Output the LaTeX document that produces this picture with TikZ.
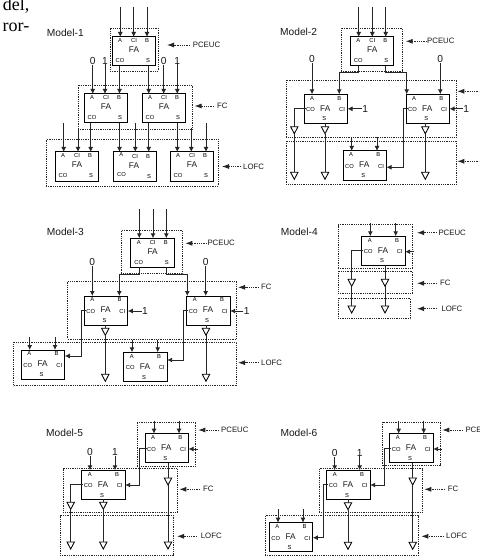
\documentclass[tikz,border=0pt]{standalone}
\usepackage{fontspec}
\setmainfont{Liberation Sans}
\newfontfamily\serifpart{Liberation Serif}
\usetikzlibrary{arrows.meta,shapes.geometric,fit,calc}
\newcounter{fe}
\tikzset{
  wire/.style={line width=.95pt,draw=black!85},
  wirein/.style={wire,-{Latex[length=5pt,width=5pt]}},
  fabox/.style={draw=black,line width=1pt,anchor=north west,minimum width=43.5pt,minimum height=29pt,inner sep=0pt,outer sep=0pt},
  grp/.style={draw=black!85,line width=.85pt,dash pattern=on .9pt off .9pt,inner sep=0pt,outer sep=0pt},
  lab/.style={font=\fontsize{5.8}{6}\selectfont,inner sep=0pt,text=black},
  falab/.style={font=\fontsize{8.3}{9}\selectfont,inner sep=0pt,text=black!90},
  title/.style={font=\fontsize{10.2}{11}\selectfont,inner sep=0pt,anchor=west,text=black!90},
  tag/.style={font=\fontsize{7.8}{9}\selectfont,inner sep=0pt,anchor=west,text=black!90},
  digit/.style={font=\fontsize{10.2}{11}\selectfont,inner sep=.2pt,text=black!90},
  tagline/.style={line width=.85pt,draw=black!85,dash pattern=on .9pt off .9pt,-{Latex[length=7pt,width=5pt]}},
  buf/.style={draw=black,fill=white,line width=.85pt,isosceles triangle,isosceles triangle stretches,minimum width=7.4pt,minimum height=7pt,shape border rotate=-90,inner sep=0pt,outer sep=0pt,anchor=lower side},
  para/.style={font=\serifpart\fontsize{18}{20}\selectfont,inner sep=0pt,anchor=base east,text=black}
}
\newcommand\FAT[3]{%
  \node[fabox] (#1) at (#2,#3) {};
  \node[lab] (#1-la) at ([shift={(8,4)}]#1.north west) {A};
  \node[lab] (#1-lc) at ([shift={(22,4)}]#1.north west) {CI};
  \node[lab] (#1-lb) at ([shift={(35,4)}]#1.north west) {B};
  \node[falab] (#1-lf) at ([shift={(22,13)}]#1.north west) {FA};
  \node[lab] (#1-lo) at ([shift={(8,24)}]#1.north west) {CO};
  \node[lab] (#1-ls) at ([shift={(36,24)}]#1.north west) {S};
}
\newcommand\FAS[3]{%
  \node[fabox] (#1) at (#2,#3) {};
  \node[lab] (#1-la) at ([shift={(8,4)}]#1.north west) {A};
  \node[lab] (#1-lb) at ([shift={(35.3,4)}]#1.north west) {B};
  \node[lab] (#1-lo) at ([shift={(6.5,15.5)}]#1.north west) {CO};
  \node[falab] (#1-lf) at ([shift={(21.3,14)}]#1.north west) {FA};
  \node[lab] (#1-lc) at ([shift={(38,15.5)}]#1.north west) {CI};
  \node[lab] (#1-ls) at ([shift={(20.3,24.7)}]#1.north west) {S};
  \coordinate (#1-COL) at ([shift={(1.5,14.4)}]#1.north west);
}
\newcommand\GRP[5]{\node[grp,fit={(#2,#3) (#4,#5)}] (#1) {};}
\newcommand\VIN[3]{\stepcounter{fe}\coordinate (fe\thefe) at (#1,#2);
  \draw[wirein] (fe\thefe) -- (fe\thefe |- #3.north);}
\newcommand\DIG[4]{\stepcounter{fe}\node[digit] (dg\thefe) at (#1,#2) {#3};
  \draw[wirein] (dg\thefe.south) -- (dg\thefe.south |- #4.north);}
\newcommand\SIDE[4]{\stepcounter{fe}\node[digit] (dg\thefe) at (#1,#2) {#3};
  \draw[wirein] (dg\thefe.west) -- (dg\thefe.west -| #4.east);}
\newcommand\STUB[3]{\stepcounter{fe}\coordinate (fe\thefe) at (#1,#2);
  \draw[wirein] (fe\thefe) -- (fe\thefe -| #3.east);}
\newcommand\TAG[5]{\stepcounter{fe}\node[tag] (tg\thefe) at (#4,#2) {#5};
  \coordinate (tp\thefe) at (#1,#2); \coordinate (te\thefe) at (#3,#2);
  \draw[tagline] (te\thefe) -- (tp\thefe);}
% tag arrow whose text lies beyond the picture's edge
\newcommand\TAGCUT[3]{\stepcounter{fe}
  \coordinate (tp\thefe) at (#1,#2); \coordinate (te\thefe) at (#3,#2);
  \draw[tagline] (te\thefe) -- (tp\thefe);}
\newcommand\BUF[3]{\node[buf] (#1) at (#2,#3) {};}
\begin{document}
\begin{tikzpicture}[x=1pt,y=-1pt]
\useasboundingbox (0,0) rectangle (479,556);
\clip (0,0) rectangle (479,556);
\fill[white] (0,0) rectangle (479,556);
\node[para] (pa) at (29.5,10.5) {del,};
\node[para] (pb) at (29.5,32) {ror-};

%%%% Model-1
\node[title] (t1) at (46.7,33) {Model-1};
\GRP{m1a}{110}{28}{158}{71}
\GRP{m1b}{78}{85}{192}{129}
\GRP{m1c}{46}{139.5}{218}{186}
\FAT{p}{112}{37}
\FAT{q}{84}{94}
\FAT{r}{142}{94}
\FAT{u}{55}{152}
\node[fabox] (v) at (113,152) {};
\node[lab] (v-la) at ([shift={(8.3,2.6)}]v.north west) {A};
\node[lab] (v-lc) at ([shift={(22,4.7)}]v.north west) {CI};
\node[lab] (v-lb) at ([shift={(35,4.7)}]v.north west) {B};
\node[falab] (v-lf) at ([shift={(21,14)}]v.north west) {FA};
\node[lab] (v-lo) at ([shift={(8.5,22.5)}]v.north west) {CO};
\node[lab] (v-ls) at ([shift={(36,25)}]v.north west) {S};
\FAT{w}{170}{152}
\VIN{120.3}{7}{p}\VIN{133.7}{7}{p}\VIN{147}{7}{p}
\DIG{92.7}{60.5}{0}{q}\DIG{105}{60.5}{1}{q}
\DIG{163.7}{60.5}{0}{r}\DIG{177.3}{60.5}{1}{r}
\VIN{119.5}{66}{q}\VIN{148.7}{66}{r}
\VIN{63.7}{123}{u}\VIN{78}{128}{u}\VIN{90.7}{123}{u}
\VIN{119.5}{123}{v}\VIN{135.3}{123}{v}\VIN{148.7}{123}{v}
\VIN{177.3}{123}{w}\VIN{191.3}{128}{w}\VIN{206}{123}{w}
\TAG{167}{45}{190}{192.7}{PCEUC}
\TAG{194.5}{106}{214}{217}{FC}
\TAG{222}{166.5}{241}{243}{LOFC}

%%%% Model-2
\node[title] (t2) at (280,32) {Model-2};
\GRP{n1a}{341}{28.3}{402.3}{71.3}
\GRP{n1b}{286.3}{80}{456.3}{137.3}
\GRP{n1c}{286.3}{141}{456.3}{184.3}
\FAT{na}{350.3}{37}
\FAS{nb}{304}{94.3}
\FAS{nc}{406}{94.3}
\FAS{nd}{343}{151}
\VIN{358.7}{7}{na}\VIN{372.3}{7}{na}\VIN{385.7}{7}{na}
\coordinate (naCO) at ([xshift=8.4pt]na.south west);
\coordinate (naS) at ([xshift=35.4pt]na.south west);
\coordinate (nbB) at ([xshift=35.2pt]nb.north west);
\coordinate (ncP) at ([xshift=.7pt]nc.north west);
\draw[wirein] (naCO) -- ++(0,6.9) -| (nbB);
\draw[wirein] (naS) -- ++(0,6.9) -| (ncP);
\DIG{312}{59.3}{0}{nb}\DIG{440.3}{59.3}{0}{nc}
\SIDE{365.3}{108.8}{1}{nb}\SIDE{466.3}{108.8}{1}{nc}
\BUF{nt1}{294.3}{126.7}\BUF{nt2}{325}{126.7}\BUF{nt3}{425.3}{126.7}
\BUF{nu1}{294.3}{172.3}\BUF{nu2}{325}{172.3}\BUF{nu3}{425.3}{172.3}
\draw[wire] (nb-COL) -| (nt1.lower side);
\draw[wire] (nt2.lower side |- nb.south) -- (nt2.lower side);
\draw[wire] (nt3.lower side |- nc.south) -- (nt3.lower side);
\draw[wire] (nt1.apex) -- (nu1.lower side);
\draw[wire] (nt2.apex) -- (nu2.lower side);
\draw[wire] (nt3.apex) -- (nu3.lower side);
\coordinate (ndCI) at ([yshift=-16.3pt]nd.north east);
\draw[wirein] (nc-COL) -- ++(-4.2,0) |- (ndCI);
\VIN{351.7}{137.3}{nd}\VIN{377}{137.3}{nd}
\TAG{405.7}{41.3}{427}{427}{PCEUC}
\TAGCUT{457.3}{91.3}{480}
\TAGCUT{457.3}{161.3}{480}

%%%% Model-3
\node[title] (t3) at (46.7,232.3) {Model-3};
\GRP{o1a}{121.3}{230.7}{182.7}{273.3}
\GRP{o1b}{67.7}{281.3}{236.7}{339}
\GRP{o1c}{13.7}{342.3}{236.7}{385.7}
\FAT{oa}{130.7}{238.3}
\FAS{ob}{84.3}{296}
\FAS{oc}{186.7}{296}
\FAS{od}{21.3}{350}
\FAS{oe}{123.7}{352.3}
\VIN{139.3}{209}{oa}\VIN{153}{209}{oa}\VIN{166.3}{209}{oa}
\coordinate (oaCO) at ([xshift=8.6pt]oa.south west);
\coordinate (oaS) at ([xshift=35.6pt]oa.south west);
\coordinate (obB) at ([xshift=35pt]ob.north west);
\coordinate (ocP) at ([xshift=.6pt]oc.north west);
\draw[wirein] (oaCO) -- ++(0,7) -| (obB);
\draw[wirein] (oaS) -- ++(0,7) -| (ocP);
\DIG{92.3}{262.3}{0}{ob}\DIG{205.7}{262.3}{0}{oc}
\SIDE{145}{311}{1}{ob}\SIDE{246.7}{311}{1}{oc}
\BUF{ot1}{105.3}{328.3}\BUF{ot2}{206}{328.3}
\BUF{ou1}{105.3}{374.3}\BUF{ou2}{206}{374.3}
\draw[wire] (ot1.lower side |- ob.south) -- (ot1.lower side);
\draw[wire] (ot2.lower side |- oc.south) -- (ot2.lower side);
\draw[wire] (ot1.apex) -- (ou1.lower side);
\draw[wire] (ot2.apex) -- (ou2.lower side);
\coordinate (odCI) at ([yshift=-6pt]od.north east);
\coordinate (oeCI) at ([yshift=-7.7pt]oe.north east);
\draw[wirein] (ob-COL) -- ++(-4.8,0) |- (odCI);
\draw[wirein] (oc-COL) -- ++(-4.6,0) |- (oeCI);
\VIN{29.7}{336.7}{od}\VIN{55}{336.7}{od}
\VIN{132}{339.7}{oe}\VIN{157.7}{339.7}{oe}
\TAG{185.3}{243.3}{207}{207.3}{PCEUC}
\TAG{238}{287.3}{259}{261}{FC}
\TAG{238}{362.7}{259}{261}{LOFC}

%%%% Model-4
\node[title] (t4) at (280.7,232) {Model-4};
\GRP{s1a}{338}{224.7}{412.7}{268.7}
\GRP{s1b}{338}{271.3}{412.7}{293.3}
\GRP{s1c}{338}{298.3}{410.7}{318.7}
\FAS{sa}{361.7}{236.3}
\VIN{370.3}{223.3}{sa}\VIN{395.7}{223.3}{sa}
\STUB{414}{251.7}{sa}
\BUF{st1}{351.7}{279.3}\BUF{st2}{385}{279.3}
\BUF{su1}{351.7}{306}\BUF{su2}{385}{306}
\draw[wire] (sa-COL) -| (st1.lower side);
\draw[wire] (st2.lower side |- sa.south) -- (st2.lower side);
\draw[wire] (st1.apex) -- (su1.lower side);
\draw[wire] (st2.apex) -- (su2.lower side);
\TAG{417}{232.7}{437}{438.3}{PCEUC}
\TAG{417}{283.3}{437}{440}{FC}
\TAG{417}{308.7}{437}{441.3}{LOFC}

%%%% Model-5
\node[title] (t5) at (46,432.7) {Model-5};
\GRP{g1a}{137.3}{422}{195.7}{466}
\GRP{g1b}{63.3}{468.7}{177.3}{512.7}
\GRP{g1c}{60}{515.7}{173.7}{555}
\FAS{ga}{145}{433.7}
\FAS{gb}{81.7}{470.3}
\VIN{154}{420.7}{ga}\VIN{179}{420.7}{ga}
\STUB{198}{449}{ga}
\DIG{90}{451.7}{0}{gb}\DIG{115}{451.7}{1}{gb}
\BUF{gt1}{70.7}{502.3}\BUF{gt2}{103.3}{502.3}\BUF{gt3}{168}{478}
\BUF{gu1}{70.7}{542}\BUF{gu2}{103.3}{542}\BUF{gu3}{168}{542}
\draw[wire] (gb-COL) -| (gt1.lower side);
\draw[wire] (gt2.lower side |- gb.south) -- (gt2.lower side);
\draw[wire] (gt3.lower side |- ga.south) -- (gt3.lower side);
\draw[wire] (gt1.apex) -- (gu1.lower side);
\draw[wire] (gt2.apex) -- (gu2.lower side);
\draw[wire] (gt3.apex) -- (gu3.lower side);
\coordinate (gbCI) at ([yshift=-14.7pt]gb.north east);
\draw[wirein] (ga-COL) -- ++(-6.8,0) |- (gbCI);
\TAG{198.3}{430}{219}{221}{PCEUC}
\TAG{179.3}{489.3}{200}{203}{FC}
\TAG{177}{536.3}{197}{200.7}{LOFC}

%%%% Model-6
\node[title] (t6) at (280.3,433.3) {Model-6};
\GRP{h1a}{382.7}{422}{440.3}{465.3}
\GRP{h1b}{319.3}{468.7}{422.3}{512.3}
\GRP{h1c}{265}{515.7}{418.7}{555.3}
\FAS{ha}{389.7}{433.7}
\FAS{hb}{326.7}{470.3}
\FAS{hc}{269.3}{522.7}
\VIN{398.7}{420.7}{ha}\VIN{423.7}{420.7}{ha}
\STUB{441.7}{449}{ha}
\DIG{334.7}{452.5}{0}{hb}\DIG{359.7}{452.5}{1}{hb}
\VIN{278}{509.3}{hc}\VIN{303}{509.3}{hc}
\BUF{ht1}{348}{502.7}\BUF{ht2}{412.7}{478}
\BUF{hu1}{348}{542.3}\BUF{hu2}{412.7}{542.3}
\draw[wire] (ht1.lower side |- hb.south) -- (ht1.lower side);
\draw[wire] (ht2.lower side |- ha.south) -- (ht2.lower side);
\draw[wire] (ht1.apex) -- (hu1.lower side);
\draw[wire] (ht2.apex) -- (hu2.lower side);
\coordinate (hbCI) at ([yshift=-14.7pt]hb.north east);
\coordinate (hcCI) at ([yshift=-15pt]hc.north east);
\draw[wirein] (ha-COL) -- ++(-6.4,0) |- (hbCI);
\draw[wirein] (hb-COL) -- ++(-5,0) |- (hcCI);
\TAG{442.3}{430}{463}{465.3}{PCEUC}
\TAG{424.3}{489.3}{445}{447.7}{FC}
\TAG{421.3}{536.3}{444}{446}{LOFC}
\end{tikzpicture}
\end{document}
